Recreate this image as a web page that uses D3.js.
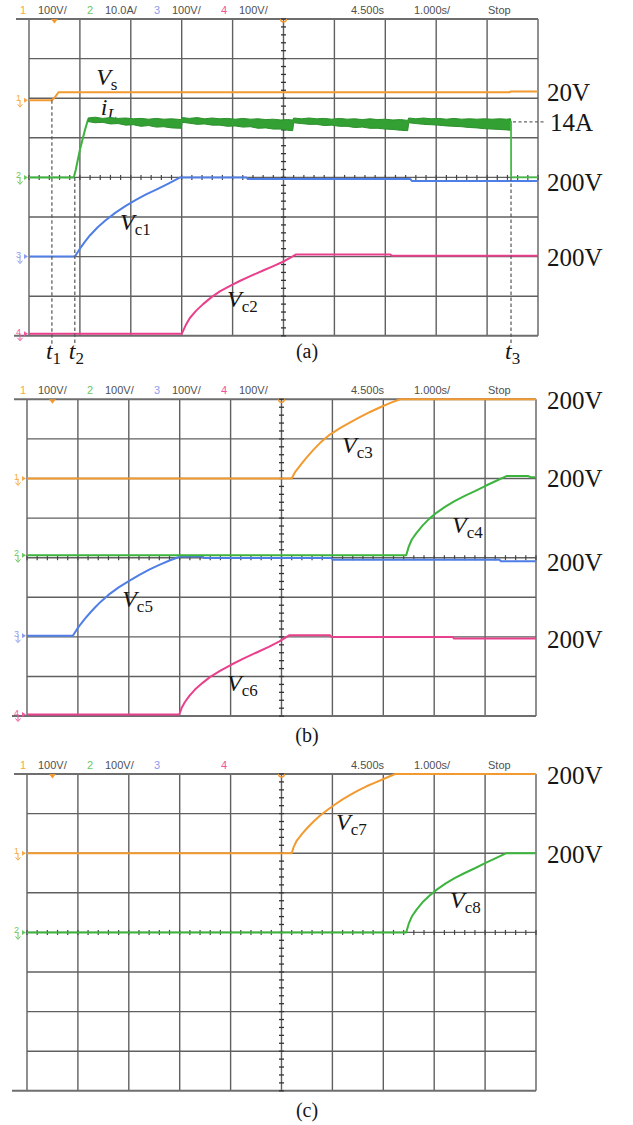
<!DOCTYPE html>
<html>
<head>
<meta charset="utf-8">
<script src="https://cdn.jsdelivr.net/npm/d3@7"></script>
<style>
  body { margin: 0; background: #fff; }
  svg { display: block; }
</style>
</head>
<body>
<svg id="scope" width="633" height="1125"></svg>
<script>
// ---- time base: 10 divisions at 1 s/div ----
const timeDomain = [0, 10];
const timebaseText = ["4.500s", "1.000s/", "Stop"];

// ---- channel header text per screen ----
const chanNumbers = ["1", "2", "3", "4"];
const scalesA = ["100V/", "10.0A/", "100V/", "100V/"];
const scalesB = ["100V/", "100V/", "100V/", "100V/"];
const scalesC = ["100V/", "100V/", "", ""];

// ---- screen (a): [time s, value] ----
const vsA = [[0, 0], [0.45, 0], [0.5, 6], [0.58, 20], [9.44, 20], [9.47, 22], [10, 22]];
const iLRiseA = [[0, 0], [0.88, 0], [0.92, 2], [1.0, 7], [1.1, 12], [1.16, 14.6]];
const iLTailA = [[9.47, 14.3], [9.472, 0], [10, 0]];
// inductor current ripple band (upper / lower envelope, A)
const iLTimeA = [1.16, 1.3, 1.45, 1.6, 1.75, 1.9, 2.05, 2.2, 2.35, 2.5, 2.65, 2.8, 2.99,
                 3.01, 3.15, 3.3, 3.45, 3.6, 3.75, 3.9, 4.05, 4.2, 4.35, 4.5, 4.65, 4.8, 4.95, 5.08, 5.18,
                 5.2, 5.35, 5.5, 5.65, 5.8, 5.95, 6.1, 6.25, 6.4, 6.55, 6.7, 6.85, 7.0, 7.15, 7.3, 7.44,
                 7.46, 7.6, 7.75, 7.9, 8.05, 8.2, 8.35, 8.5, 8.65, 8.8, 8.95, 9.1, 9.25, 9.38, 9.46];
const iLHighA = [15.0, 15.2, 14.9, 15.1, 14.9, 15.0, 14.8, 14.9, 14.7, 14.9, 14.7, 14.8, 14.6,
                 15.1, 14.9, 15.1, 14.8, 15.0, 14.8, 14.9, 14.7, 14.9, 14.7, 14.8, 14.6, 14.7, 14.5, 14.6, 14.5,
                 15.0, 14.8, 15.0, 14.8, 14.9, 14.7, 14.9, 14.7, 14.8, 14.6, 14.8, 14.6, 14.7, 14.5, 14.6, 14.4,
                 15.0, 14.8, 15.0, 14.8, 14.9, 14.7, 14.9, 14.7, 14.8, 14.7, 14.8, 14.7, 14.8, 14.7, 14.8];
const iLLowA  = [14.1, 13.8, 13.9, 13.5, 13.6, 13.2, 13.3, 12.9, 13.1, 12.7, 12.8, 12.5, 12.4,
                 13.9, 13.7, 13.4, 13.5, 13.2, 13.2, 12.9, 13.0, 12.7, 12.8, 12.4, 12.5, 12.2, 12.2, 11.9, 11.8,
                 13.8, 13.6, 13.4, 13.4, 13.1, 13.2, 12.9, 12.9, 12.6, 12.7, 12.4, 12.4, 12.2, 12.1, 11.9, 11.8,
                 13.8, 13.6, 13.4, 13.3, 13.2, 13.0, 12.9, 12.8, 12.6, 12.5, 12.3, 12.2, 12.1, 12.0, 11.9];
const iLRated = 14;
const vc1A = [[0, 0], [0.9, 0], [1.0, 20], [1.1, 38], [1.2, 54], [1.35, 74], [1.5, 91], [1.7, 111],
              [1.9, 128], [2.1, 143], [2.3, 157], [2.5, 169], [2.7, 182], [2.85, 192], [2.97, 200],
              [4.27, 200], [4.3, 196], [7.49, 196], [7.52, 191], [10, 191]];
const vc2A = [[0, 0], [3.0, 0], [3.08, 22], [3.16, 40], [3.28, 58], [3.42, 75], [3.58, 92], [3.75, 107],
              [3.95, 121], [4.15, 134], [4.37, 147], [4.6, 160], [4.8, 171], [4.99, 182], [5.12, 191],
              [5.24, 200], [7.1, 200], [7.13, 197], [10, 197]];
const eventTimesA = [0.45, 0.9, 9.47];   // t1, t2, t3

// ---- screen (b) ----
const vc3B = [[0, 0], [5.2, 0], [5.27, 17], [5.38, 35], [5.5, 54], [5.63, 73], [5.76, 90], [5.95, 111],
              [6.15, 127], [6.35, 142], [6.54, 155], [6.74, 168], [6.94, 180], [7.14, 191], [7.33, 200],
              [10, 200]];
const vc4B = [[0, 0], [7.45, 0], [7.5, 22], [7.56, 40], [7.65, 56], [7.77, 75], [7.9, 92], [8.05, 108],
              [8.22, 123], [8.4, 137], [8.6, 150], [8.8, 162], [9.0, 175], [9.2, 187], [9.42, 200],
              [9.85, 200], [9.9, 197], [10, 197]];
const vc5B = [[0, 0], [0.9, 0], [0.97, 14], [1.04, 27], [1.14, 43], [1.24, 58], [1.34, 72], [1.45, 86],
              [1.6, 103], [1.8, 122], [2.0, 138], [2.2, 153], [2.4, 167], [2.6, 179], [2.8, 190],
              [3.01, 200], [3.45, 200], [3.48, 196], [5.98, 196], [6.01, 192], [9.28, 192], [9.31, 188],
              [10, 188]];
const vc6B = [[0, 0], [2.99, 0], [3.04, 17], [3.1, 31], [3.19, 47], [3.3, 63], [3.45, 80], [3.6, 95],
              [3.8, 111], [4.0, 125], [4.25, 141], [4.5, 156], [4.75, 171], [4.95, 184], [5.15, 200],
              [5.95, 200], [5.98, 196], [8.36, 196], [8.39, 192], [10, 192]];

// ---- screen (c) ----
const vc7C = [[0, 0], [5.2, 0], [5.24, 16], [5.3, 32], [5.4, 48], [5.5, 63], [5.63, 80], [5.76, 95],
              [5.9, 109], [6.05, 123], [6.2, 136], [6.35, 147], [6.5, 158], [6.67, 169], [6.85, 179],
              [7.05, 190], [7.23, 200], [10, 200]];
const vc8C = [[0, 0], [7.45, 0], [7.5, 22], [7.56, 40], [7.65, 57], [7.77, 76], [7.9, 92], [8.05, 108],
              [8.22, 123], [8.4, 137], [8.6, 150], [8.8, 162], [9.0, 175], [9.2, 187], [9.42, 200],
              [10, 200]];

// ---- colours ----
const traceColors = ["#f29a30", "#3db43d", "#4f7ee6", "#e8408c"];
const headColors  = ["#f7a84a", "#6cc860", "#8c9cf0", "#f2559e"];
const iLBandColor = "#33a033";
const gridColor = "#606060";
const sans = "'Liberation Sans', Arial, sans-serif";
const serif = "'Liberation Serif', 'Times New Roman', serif";

const divX = 50.9, divY = 39.6;
const svg = d3.select("#scope");

const screens = [
  {
    caption: "(a)", left: 29, top: 19, scales: scalesA,
    traces: [
      { ch: 0, perDiv: 100, offset: 1.95, data: vsA, end: "20V", label: ["V", "s", false, 1.32, 38] },
      { ch: 1, perDiv: 10, offset: 0, data: iLRiseA, label: ["i", "L", true, 1.41, 15.8] },
      { ch: 2, perDiv: 100, offset: -2, data: vc1A, end: "200V", label: ["V", "c1", false, 1.79, 67] },
      { ch: 3, perDiv: 100, offset: -3.95, data: vc2A, end: "200V", label: ["V", "c2", false, 3.89, 68] }
    ],
    current: true
  },
  {
    caption: "(b)", left: 27, top: 399.3, scales: scalesB,
    traces: [
      { ch: 2, perDiv: 100, offset: -1.97, data: vc5B, end: "200V", label: ["V", "c5", false, 1.87, 72] },
      { ch: 3, perDiv: 100, offset: -3.96, data: vc6B, end: "200V", label: ["V", "c6", false, 3.93, 59] },
      { ch: 1, perDiv: 100, offset: 0.06, data: vc4B, end: "200V", label: ["V", "c4", false, 8.35, 56] },
      { ch: 0, perDiv: 100, offset: 2, data: vc3B, end: "200V", label: ["V", "c3", false, 6.19, 64] }
    ]
  },
  {
    caption: "(c)", left: 27, top: 774, scales: scalesC,
    traces: [
      { ch: 1, perDiv: 100, offset: 0, data: vc8C, end: "200V", label: ["V", "c8", false, 8.31, 62] },
      { ch: 0, perDiv: 100, offset: 2, data: vc7C, end: "200V", label: ["V", "c7", false, 6.07, 59] }
    ]
  }
];

function subLabel(g, xPos, yPos, main, sub, subItalic, mainSize, subSize) {
  const t = g.append("text").attr("x", xPos).attr("y", yPos)
    .attr("font-family", serif).attr("fill", "#161616");
  t.append("tspan").attr("font-size", mainSize || 24).attr("font-style", "italic").text(main);
  t.append("tspan").attr("font-size", subSize || 17)
    .attr("font-style", subItalic ? "italic" : "normal").attr("dy", 5).text(sub);
}

function drawScreen(s) {
  const g = svg.append("g");
  const left = s.left, right = left + 10 * divX;
  const top = s.top, bottom = top + 8 * divY;
  const x = d3.scaleLinear().domain(timeDomain).range([left, right]);
  const yDiv = d3.scaleLinear().domain([-4, 4]).range([bottom, top]);
  const cx = x(5), cy = yDiv(0);

  // header line
  const head = g.append("g").attr("font-family", sans).attr("font-size", 11);
  chanNumbers.forEach((n, i) => {
    head.append("text").attr("x", 20 + i * 67).attr("y", top - 5).attr("fill", headColors[i]).text(n);
    head.append("text").attr("x", 38 + i * 67).attr("y", top - 5).attr("fill", "#505050").text(s.scales[i]);
  });
  [351, 414, 488].forEach((px, i) => {
    head.append("text").attr("x", px).attr("y", top - 5).attr("fill", "#505050").text(timebaseText[i]);
  });

  // graticule
  const grid = g.append("g").attr("stroke", gridColor).attr("stroke-width", 1.4);
  grid.selectAll("line.v").data(d3.range(0, 11)).join("line")
    .attr("x1", d => x(d)).attr("x2", d => x(d)).attr("y1", top).attr("y2", bottom);
  grid.selectAll("line.h").data(d3.range(-3, 4)).join("line")
    .attr("x1", left).attr("x2", right).attr("y1", d => yDiv(d)).attr("y2", d => yDiv(d));
  grid.append("line").attr("x1", left - 13).attr("x2", right).attr("y1", top).attr("y2", top)
    .attr("stroke-width", 2).attr("stroke", "#6e6e6e");
  grid.append("line").attr("x1", left - 15).attr("x2", right).attr("y1", bottom).attr("y2", bottom)
    .attr("stroke-width", 2).attr("stroke", "#6e6e6e");
  // centre-axis minor ticks
  grid.selectAll("line.ty").data(d3.range(-4, 4.001, 0.2)).join("line")
    .attr("x1", cx - 2.5).attr("x2", cx + 2.5).attr("y1", d => yDiv(d)).attr("y2", d => yDiv(d))
    .attr("stroke", "#333").attr("stroke-width", 1.3);
  grid.selectAll("line.tx").data(d3.range(0, 10.001, 0.2)).join("line")
    .attr("x1", d => x(d)).attr("x2", d => x(d)).attr("y1", cy - 2.5).attr("y2", cy + 2.5)
    .attr("stroke", "#444").attr("stroke-width", 1.2);

  // trigger markers
  g.append("path").attr("d", `M${x(0.5) - 3.5},${top} L${x(0.5) + 3.5},${top} L${x(0.5)},${top + 4.5}Z`)
    .attr("fill", traceColors[0]);
  g.append("path").attr("d", `M${cx - 3},${top} A3,3 0 0 0 ${cx + 3},${top}`)
    .attr("fill", "none").attr("stroke", traceColors[0]).attr("stroke-width", 1.3);

  const yFor = tr => d3.scaleLinear()
    .domain([(-4 - tr.offset) * tr.perDiv, (4 - tr.offset) * tr.perDiv]).range([bottom, top]);
  const lineFor = y => d3.line().x(d => x(d[0])).y(d => y(d[1])).curve(d3.curveLinear);

  const labels = g.append("g");

  s.traces.forEach(tr => {
    const y = yFor(tr);
    const col = traceColors[tr.ch];

    // ground reference marker on the left edge
    const gy = y(0), mx = left - 12;
    const mk = g.append("g").attr("fill", headColors[tr.ch]).attr("stroke", headColors[tr.ch]);
    mk.append("text").attr("x", mx - 1).attr("y", gy + 1).attr("font-family", sans)
      .attr("font-size", 9).attr("stroke", "none").text(chanNumbers[tr.ch]);
    mk.append("path").attr("d", `M${left - 5},${gy - 2.5} L${left - 1},${gy} L${left - 5},${gy + 2.5}Z`)
      .attr("stroke", "none");
    mk.append("path").attr("d", `M${mx + 3},${gy} V${gy + 6} M${mx + 0.5},${gy + 4} L${mx + 3},${gy + 7} L${mx + 5.5},${gy + 4}`)
      .attr("fill", "none").attr("stroke-width", 1);

    if (tr.ch === 1 && s.current) {
      // inductor current: rise, ripple band, fall
      g.append("path").datum(tr.data).attr("d", lineFor(y)).attr("fill", "none")
        .attr("stroke", col).attr("stroke-width", 2);
      const band = iLTimeA.map((t, i) => [t, iLLowA[i], iLHighA[i]]);
      g.append("path").datum(band)
        .attr("d", d3.area().x(d => x(d[0])).y0(d => y(d[1])).y1(d => y(d[2])))
        .attr("fill", iLBandColor).attr("stroke", "#2b902b").attr("stroke-width", 1);
      g.append("path").datum(iLTailA)
        .attr("d", lineFor(y))
        .attr("fill", "none").attr("stroke", "#45bd45").attr("stroke-width", 1.8);
      // rated current leader
      g.append("line").attr("x1", x(eventTimesA[2]) + 2).attr("x2", right + 8)
        .attr("y1", y(iLRated)).attr("y2", y(iLRated))
        .attr("stroke", "#666").attr("stroke-width", 1.2).attr("stroke-dasharray", "3,2.5");
      labels.append("text").attr("x", 550).attr("y", y(iLRated) + 9)
        .attr("font-family", serif).attr("font-size", 25).attr("fill", "#161616").text(iLRated + "A");
    } else {
      g.append("path").datum(tr.data).attr("d", lineFor(y)).attr("fill", "none")
        .attr("stroke", col).attr("stroke-width", 2).attr("stroke-linejoin", "round");
    }

    if (tr.end) {
      const last = tr.data[tr.data.length - 1][1];
      labels.append("text").attr("x", 547).attr("y", y(last) + 10)
        .attr("font-family", serif).attr("font-size", 25).attr("fill", "#161616").text(tr.end);
    }
    const [m, sb, it, lt, lv] = tr.label;
    subLabel(labels, x(lt), y(lv), m, sb, it);
  });

  // event markers t1, t2, t3 on screen (a)
  if (s.current) {
    const yVs = yFor(s.traces[0]), yIL = yFor(s.traces[1]);
    const starts = [yVs(0), yIL(0), yIL(0)];
    eventTimesA.forEach((t, i) => {
      g.append("line").attr("x1", x(t)).attr("x2", x(t)).attr("y1", starts[i]).attr("y2", bottom + 10)
        .attr("stroke", "#555").attr("stroke-width", 1.2).attr("stroke-dasharray", "3.5,2.5");
      subLabel(labels, x(t) - 6, bottom + 23, "t", String(i + 1), false);
    });
  }

  svg.append("text").attr("x", 307).attr("y", bottom + (s.current ? 22 : 26))
    .attr("text-anchor", "middle").attr("font-family", serif).attr("font-size", 20)
    .attr("fill", "#161616").text(s.caption);
}

screens.forEach(drawScreen);
</script>
</body>
</html>
